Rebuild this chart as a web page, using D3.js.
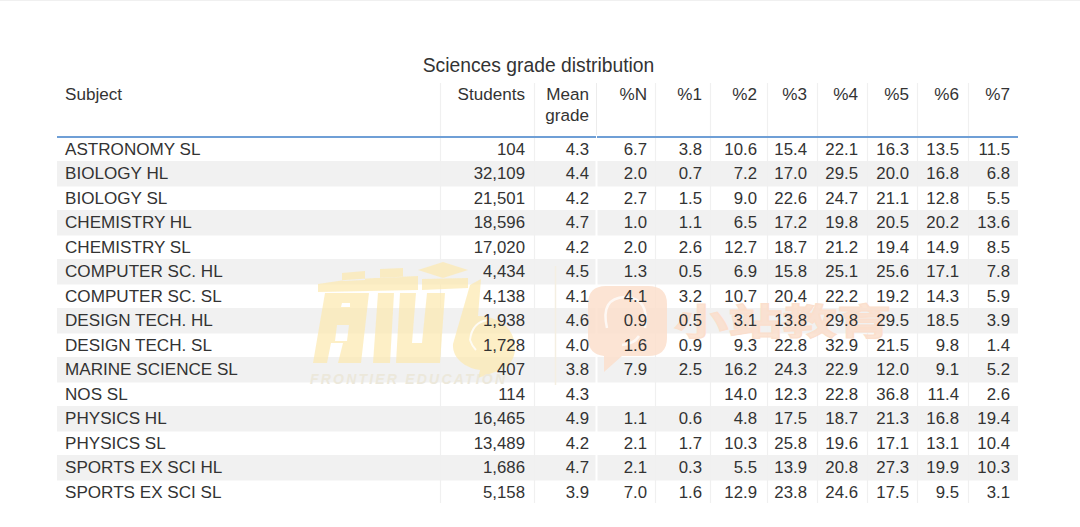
<!DOCTYPE html>
<html>
<head>
    <meta charset="utf-8">
    <title>Sciences grade distribution</title>
    <script src="https://d3js.org/d3.v7.min.js"></script>
    <style>
        html, body { margin: 0; padding: 0; background: #fff; }
        svg { display: block; }
        text { font-family: "Liberation Sans", Arial, sans-serif; fill: #333; }
    </style>
</head>
<body>
<svg id="chart" width="1080" height="527"></svg>

<script>
    var columns = ["Students", "Mean", "%N", "%1", "%2", "%3", "%4", "%5", "%6", "%7"];

    /* subject, students, mean, %N, %1 ... %7 */
    var rows = [
        ["ASTRONOMY SL", "104", "4.3", "6.7", "3.8", "10.6", "15.4", "22.1", "16.3", "13.5", "11.5"],
        ["BIOLOGY HL", "32,109", "4.4", "2.0", "0.7", "7.2", "17.0", "29.5", "20.0", "16.8", "6.8"],
        ["BIOLOGY SL", "21,501", "4.2", "2.7", "1.5", "9.0", "22.6", "24.7", "21.1", "12.8", "5.5"],
        ["CHEMISTRY HL", "18,596", "4.7", "1.0", "1.1", "6.5", "17.2", "19.8", "20.5", "20.2", "13.6"],
        ["CHEMISTRY SL", "17,020", "4.2", "2.0", "2.6", "12.7", "18.7", "21.2", "19.4", "14.9", "8.5"],
        ["COMPUTER SC. HL", "4,434", "4.5", "1.3", "0.5", "6.9", "15.8", "25.1", "25.6", "17.1", "7.8"],
        ["COMPUTER SC. SL", "4,138", "4.1", "4.1", "3.2", "10.7", "20.4", "22.2", "19.2", "14.3", "5.9"],
        ["DESIGN TECH. HL", "1,938", "4.6", "0.9", "0.5", "3.1", "13.8", "29.8", "29.5", "18.5", "3.9"],
        ["DESIGN TECH. SL", "1,728", "4.0", "1.6", "0.9", "9.3", "22.8", "32.9", "21.5", "9.8", "1.4"],
        ["MARINE SCIENCE SL", "407", "3.8", "7.9", "2.5", "16.2", "24.3", "22.9", "12.0", "9.1", "5.2"],
        ["NOS SL", "114", "4.3", "", "", "14.0", "12.3", "22.8", "36.8", "11.4", "2.6"],
        ["PHYSICS HL", "16,465", "4.9", "1.1", "0.6", "4.8", "17.5", "18.7", "21.3", "16.8", "19.4"],
        ["PHYSICS SL", "13,489", "4.2", "2.1", "1.7", "10.3", "25.8", "19.6", "17.1", "13.1", "10.4"],
        ["SPORTS EX SCI HL", "1,686", "4.7", "2.1", "0.3", "5.5", "13.9", "20.8", "27.3", "19.9", "10.3"],
        ["SPORTS EX SCI SL", "5,158", "3.9", "7.0", "1.6", "12.9", "23.8", "24.6", "17.5", "9.5", "3.1"]
    ];

    var left = 57, right = 1018, ruleY = 137, bottom = 503, labelSize = 17.1, numSize = 16.8;

    var svg = d3.select("#chart");

    // left edge of each numeric column
    var colLeft = d3.scaleOrdinal()
        .domain(columns)
        .range([440, 534, 596, 655, 710, 767, 817, 867, 917, 968]);

    // right edge of the text in each numeric column
    var colText = d3.scaleOrdinal()
        .domain(columns)
        .range([525, 589, 647, 702, 757, 807, 858, 909, 959, 1010]);

    var y = d3.scaleBand()
        .domain(rows.map(function(d) { return d[0]; }))
        .range([136.5, 504]);

    svg.append("rect")
        .attr("width", 1080).attr("height", 1)
        .attr("fill", "#f0f0f0");

    // shaded rows
    svg.append("g").selectAll("rect")
        .data(rows.filter(function(d, i) { return i % 2 == 1; }))
        .enter()
        .append("rect")
        .attr("x", left)
        .attr("y", function(d) { return y(d[0]); })
        .attr("width", right - left)
        .attr("height", y.bandwidth() + 1)
        .attr("fill", "#f1f1f1");

    // column separators
    svg.append("g").selectAll("line")
        .data(columns)
        .enter()
        .append("line")
        .attr("x1", function(d) { return colLeft(d) + 0.5; })
        .attr("x2", function(d) { return colLeft(d) + 0.5; })
        .attr("y1", 83)
        .attr("y2", bottom)
        .attr("stroke", function(d) { return d == "%N" ? "#ffffff" : "#f0f0f0"; })
        .attr("stroke-width", function(d) { return d == "%N" ? 2 : 1.2; });

    svg.append("line")
        .attr("x1", 596.5).attr("x2", 596.5)
        .attr("y1", 83).attr("y2", 135)
        .attr("stroke", "#ececec");

    /* watermarks, sit under the text */
    var marks = svg.append("g");

    marks.append("line")
        .attr("x1", 555.5).attr("x2", 555.5)
        .attr("y1", 266).attr("y2", 385)
        .attr("stroke", "#f4efe2")
        .attr("stroke-width", 1.5);

    marks.append("path")
        .attr("fill", "#fce9b0")
        .attr("fill-opacity", 0.72)
        .attr("fill-rule", "evenodd")
        .attr("d", "M318 284L345 280L375 278L418 276L418 290L318 292Z"
            + "M342 273L365 271L365 280L342 281Z M380 269L403 268L403 277L380 278Z"
            + "M325 293L369 293L361 363L338 363L343 343L331 343L327 363L313 363Z"
            + "M337 325L349 325L347 341L335 341Z M342 303L350 303L350 307L341 307Z"
            + "M378 293L394 293L390 363L373 363Z"
            + "M400 293L416 293L412 343L422 343L427 293L445 293L440 363L396 363Z"
            + "M422 279L468 278L468 288L422 290Z M418 270L443 262L468 270L443 278Z"
            + "M470 285L481 279L478 316C500 316 515 330 515 348C515 362 505 370 495 372L478 378L480 370C465 368 452 358 453 344Z");

    marks.append("path")
        .attr("fill", "none")
        .attr("stroke", "#fff")
        .attr("stroke-opacity", 0.8)
        .attr("stroke-width", 2)
        .attr("d", "M470 340Q472 322 488 320M470 340Q472 346 476 350");

    marks.append("text")
        .attr("x", 310).attr("y", 384)
        .attr("font-size", 14)
        .attr("font-style", "italic")
        .attr("font-weight", "bold")
        .attr("textLength", 195)
        .style("fill", "#ece8db")
        .text("FRONTIER EDUCATION");

    marks.append("path")
        .attr("fill", "#fbdfcd")
        .attr("fill-opacity", 0.85)
        .attr("d", "M606 286L648 286Q667 286 667 304L667 338Q667 356 648 356L622 356L604 372L604 356Q588 354 588 338L588 304Q588 286 606 286Z");

    marks.append("path")
        .attr("fill", "none")
        .attr("stroke", "#fff")
        .attr("stroke-opacity", 0.75)
        .attr("stroke-width", 2.5)
        .attr("d", "M607 328Q600 298 625 297Q650 298 645 328M622 345Q634 344 639 336");

    marks.append("text")
        .attr("transform", "translate(674,335) scale(1.51,1)")
        .attr("font-size", 36)
        .attr("font-weight", "bold")
        .attr("stroke", "#fbdfcd")
        .attr("stroke-width", 1.2)
        .attr("fill-opacity", 0.85)
        .style("font-family", "'Noto Sans CJK SC'")
        .style("fill", "#fbdfcd")
        .text("小站教育");

    // header rule, with the small gap before %N
    svg.selectAll(".rule")
        .data([[left, 596], [597, right]])
        .enter()
        .append("line")
        .attr("class", "rule")
        .attr("x1", function(d) { return d[0]; })
        .attr("x2", function(d) { return d[1]; })
        .attr("y1", ruleY)
        .attr("y2", ruleY)
        .attr("stroke", "#6f9fd6")
        .attr("stroke-width", 2);

    svg.append("text")
        .attr("x", 538.5).attr("y", 71.6)
        .attr("text-anchor", "middle")
        .attr("font-size", 19.3)
        .text("Sciences grade distribution");

    /* header */
    var head = svg.append("g").attr("font-size", labelSize);

    head.append("text").attr("x", 65).attr("y", 100).text("Subject");

    head.selectAll(".colhead")
        .data(columns)
        .enter()
        .append("text")
        .attr("class", "colhead")
        .attr("x", function(d) { return colText(d); })
        .attr("y", 100)
        .attr("text-anchor", "end")
        .text(function(d) { return d; });

    head.append("text")
        .attr("x", colText("Mean")).attr("y", 120.5)
        .attr("text-anchor", "end")
        .text("grade");

    /* body */
    var row = svg.append("g")
        .selectAll("g")
        .data(rows)
        .enter()
        .append("g")
        .attr("transform", function(d) { return "translate(0," + (y(d[0]) + y.bandwidth() / 2 + 6.2) + ")"; });

    row.append("text")
        .attr("x", 65)
        .attr("font-size", labelSize)
        .text(function(d) { return d[0]; });

    row.selectAll(".cell")
        .data(function(d) { return d.slice(1); })
        .enter()
        .append("text")
        .attr("class", "cell")
        .attr("x", function(d, i) { return colText(columns[i]); })
        .attr("text-anchor", "end")
        .attr("font-size", numSize)
        .text(function(d) { return d; });
</script>
</body>
</html>
